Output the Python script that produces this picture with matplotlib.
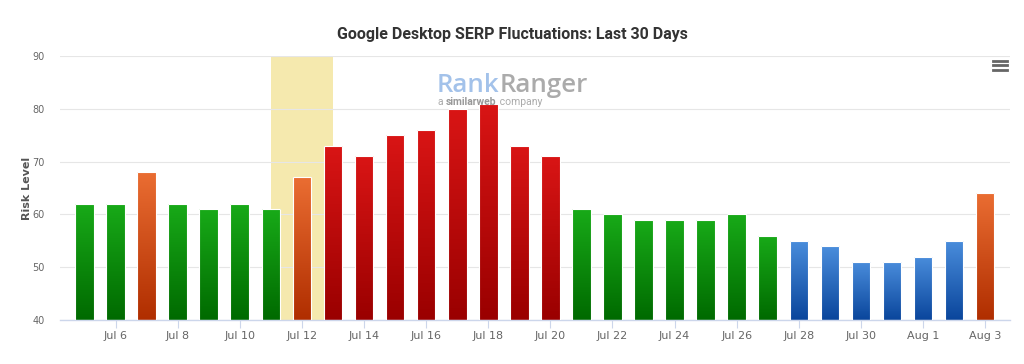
import numpy as np
import matplotlib
matplotlib.use("Agg")
import matplotlib.pyplot as plt
from matplotlib.colors import LinearSegmentedColormap

# ---- data ----
dates = ["Jul 5", "Jul 6", "Jul 7", "Jul 8", "Jul 9", "Jul 10", "Jul 11", "Jul 12",
         "Jul 13", "Jul 14", "Jul 15", "Jul 16", "Jul 17", "Jul 18", "Jul 19", "Jul 20",
         "Jul 21", "Jul 22", "Jul 23", "Jul 24", "Jul 25", "Jul 26", "Jul 27", "Jul 28",
         "Jul 29", "Jul 30", "Jul 31", "Aug 1", "Aug 2", "Aug 3"]
risk = [62, 62, 68, 62, 61, 62, 61, 67,
        73, 71, 75, 76, 80, 81, 73, 71,
        61, 60, 59, 59, 59, 60, 56, 55,
        54, 51, 51, 52, 55, 64]
levels = ["green", "green", "orange", "green", "green", "green", "green", "orange",
          "red", "red", "red", "red", "red", "red", "red", "red",
          "green", "green", "green", "green", "green", "green", "green", "blue",
          "blue", "blue", "blue", "blue", "blue", "orange"]
highlight_start, highlight_end = "Jul 11", "Jul 13"
yticks = [40, 50, 60, 70, 80, 90]

gradients = {
    "green": ("#18aa18", "#006a00"),
    "red": ("#d91515", "#9a0000"),
    "orange": ("#ea6d32", "#b02e00"),
    "blue": ("#4a8ddc", "#0a469c"),
}

fig = plt.figure(figsize=(10.24, 3.64), dpi=100)
ax = fig.add_axes([60/1024, 44/364, 950/1024, 264/364])

x = np.arange(len(dates))

# highlight band
i0, i1 = dates.index(highlight_start), dates.index(highlight_end)
ax.axvspan(x[i0], x[i1], color="#f5e9ae", zorder=0.5, lw=0)

bars = ax.bar(x, np.array(risk) - 40, bottom=40, width=0.6,
              facecolor="none", edgecolor="white", linewidth=0.8, zorder=3)

for b, lvl in zip(bars, levels):
    top, bot = gradients[lvl]
    cmap = LinearSegmentedColormap.from_list(lvl, [bot, top])
    x0, y0 = b.get_x(), b.get_y()
    w, h = b.get_width(), b.get_height()
    grad = np.linspace(0, 1, 100).reshape(-1, 1)
    im = ax.imshow(grad, cmap=cmap, origin="lower", aspect="auto",
                   extent=(x0, x0 + w, y0, y0 + h), zorder=2, interpolation="bilinear")
    im.set_clip_path(b)

ax.set_xlim(-0.79, len(dates) - 1 + 0.8)
ax.set_ylim(40, 90)

# grid
ax.set_yticks(yticks)
ax.yaxis.grid(True, color="#e6e6e6", lw=0.8)
ax.set_axisbelow(True)
ax.tick_params(axis="y", length=0, labelsize=7, labelcolor="#666666", pad=11)
ax.set_yticklabels([str(t) for t in yticks])

ax.set_xticks(x[1::2])
ax.set_xticklabels(dates[1::2])
ax.tick_params(axis="x", length=6, color="#ccd6eb", labelsize=8, labelcolor="#666666", pad=2)

for s in ["top", "right", "left"]:
    ax.spines[s].set_visible(False)
ax.spines["bottom"].set_color("#ccd6eb")
ax.spines["bottom"].set_linewidth(1)

ax.set_ylabel("Risk Level", fontsize=8, color="#555555", fontweight="bold")
ax.yaxis.set_label_coords(-0.029, 0.5)

fig.text(0.5, 1 - 35/364, "Google Desktop SERP Fluctuations: Last 30 Days",
         ha="center", va="center", fontsize=11.5, fontweight="bold", color="#333333",
         family="Roboto")

# watermark
renderer = fig.canvas.get_renderer()
t1 = fig.text(437/1024, 1 - 85/364, "Rank", ha="left", va="center", fontsize=18.6,
              fontweight="semibold", color="#a3c2ea", family="Open Sans", zorder=1)
bb = t1.get_window_extent(renderer)
fig.text(bb.x1 / 1024, 1 - 85/364, "Ranger", ha="left", va="center", fontsize=18.6,
         fontweight="semibold", color="#ababab", family="Open Sans", zorder=1)
t3 = fig.text(438/1024, 1 - 102/364, "a ", ha="left", va="center",
              fontsize=7.5, color="#aaaaaa", family="Roboto")
bb = t3.get_window_extent(renderer)
t4 = fig.text(bb.x1 / 1024, 1 - 102/364, "similarweb", ha="left", va="center",
              fontsize=7.5, color="#999999", fontweight="bold", family="Roboto")
bb = t4.get_window_extent(renderer)
fig.text(bb.x1 / 1024, 1 - 102/364, " company", ha="left", va="center",
         fontsize=7.5, color="#aaaaaa", family="Roboto")

# menu icon
for yy in [61, 65.3, 69.7]:
    fig.add_artist(plt.Line2D([993/1024, 1007/1024], [1 - yy/364, 1 - yy/364],
                              color="#666666", lw=2))

fig.savefig("out.png", dpi=100)
